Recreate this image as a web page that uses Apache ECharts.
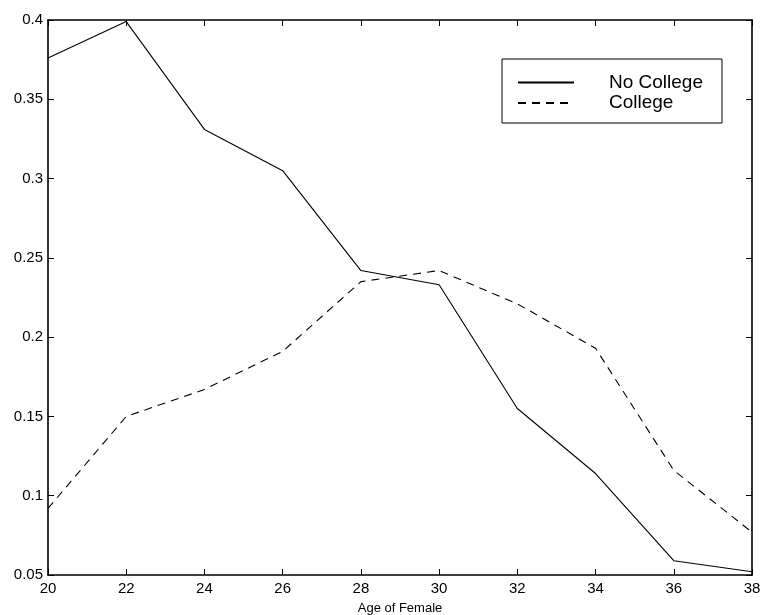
<!DOCTYPE html>
<html><head><meta charset="utf-8">
<script src="https://cdn.jsdelivr.net/npm/echarts@6/dist/echarts.min.js"></script>
<style>html,body{margin:0;padding:0;background:#fff}#c{width:763px;height:615px}</style>
</head><body><div id="c"></div>
<script>
const ages = [20, 22, 24, 26, 28, 30, 32, 34, 36, 38];
const noCollege = [0.376, 0.399, 0.331, 0.305, 0.242, 0.233, 0.155, 0.114, 0.059, 0.052];
const college = [0.092, 0.150, 0.167, 0.191, 0.235, 0.242, 0.221, 0.193, 0.116, 0.077];
const xLabel = 'Age of Female';
const seriesNames = ['No College', 'College'];

const font = '"Liberation Sans", Arial, sans-serif';
const axisCommon = {
  axisLine: {show: true, lineStyle: {color: '#000', width: 1.6}},
  axisTick: {show: true, inside: true, length: 6, lineStyle: {color: '#000', width: 1}},
  splitLine: {show: false}
};
const chart = echarts.init(document.getElementById('c'));
chart.setOption({
  animation: false,
  backgroundColor: '#fff',
  grid: {left: 48, right: 11, top: 20, bottom: 40, containLabel: false, outerBoundsMode: 'none'},
  legend: {
    left: 502, top: 59,
    orient: 'vertical',
    data: seriesNames,
    itemWidth: 56, itemHeight: 14, itemGap: 1.5,
    padding: [14, 19, 10.5, 15],
    borderColor: '#000', borderWidth: 1,
    itemStyle: {opacity: 0},
    textStyle: {fontFamily: font, fontSize: 19, lineHeight: 14, color: '#000', padding: [0, 0, 0, 30]}
  },
  xAxis: [
    Object.assign({type: 'value', min: 20, max: 38, interval: 2, position: 'bottom',
      name: xLabel, nameLocation: 'middle', nameGap: 27,
      nameTextStyle: {fontFamily: font, fontSize: 13, color: '#000'},
      axisLabel: {fontFamily: font, fontSize: 15, color: '#000', margin: 6}}, axisCommon),
    Object.assign({type: 'value', min: 20, max: 38, interval: 2, position: 'top',
      axisLabel: {show: false}}, axisCommon)
  ],
  yAxis: [
    Object.assign({type: 'value', min: 0.05, max: 0.4, interval: 0.05, position: 'left',
      axisLabel: {fontFamily: font, fontSize: 15, color: '#000', margin: 5}}, axisCommon),
    Object.assign({type: 'value', min: 0.05, max: 0.4, interval: 0.05, position: 'right',
      axisLabel: {show: false}}, axisCommon)
  ],
  series: [
    {name: seriesNames[0], type: 'line', symbol: 'none', xAxisIndex: 0, yAxisIndex: 0,
      data: ages.map((a, i) => [a, noCollege[i]]),
      lineStyle: {color: '#000', width: 1.1, type: 'solid'}, itemStyle: {color: '#000'}},
    {name: seriesNames[1], type: 'line', symbol: 'none', xAxisIndex: 0, yAxisIndex: 0,
      data: ages.map((a, i) => [a, college[i]]),
      lineStyle: {color: '#000', width: 1.1, type: [8, 6]}, itemStyle: {color: '#000'}}
  ]
});
</script></body></html>
